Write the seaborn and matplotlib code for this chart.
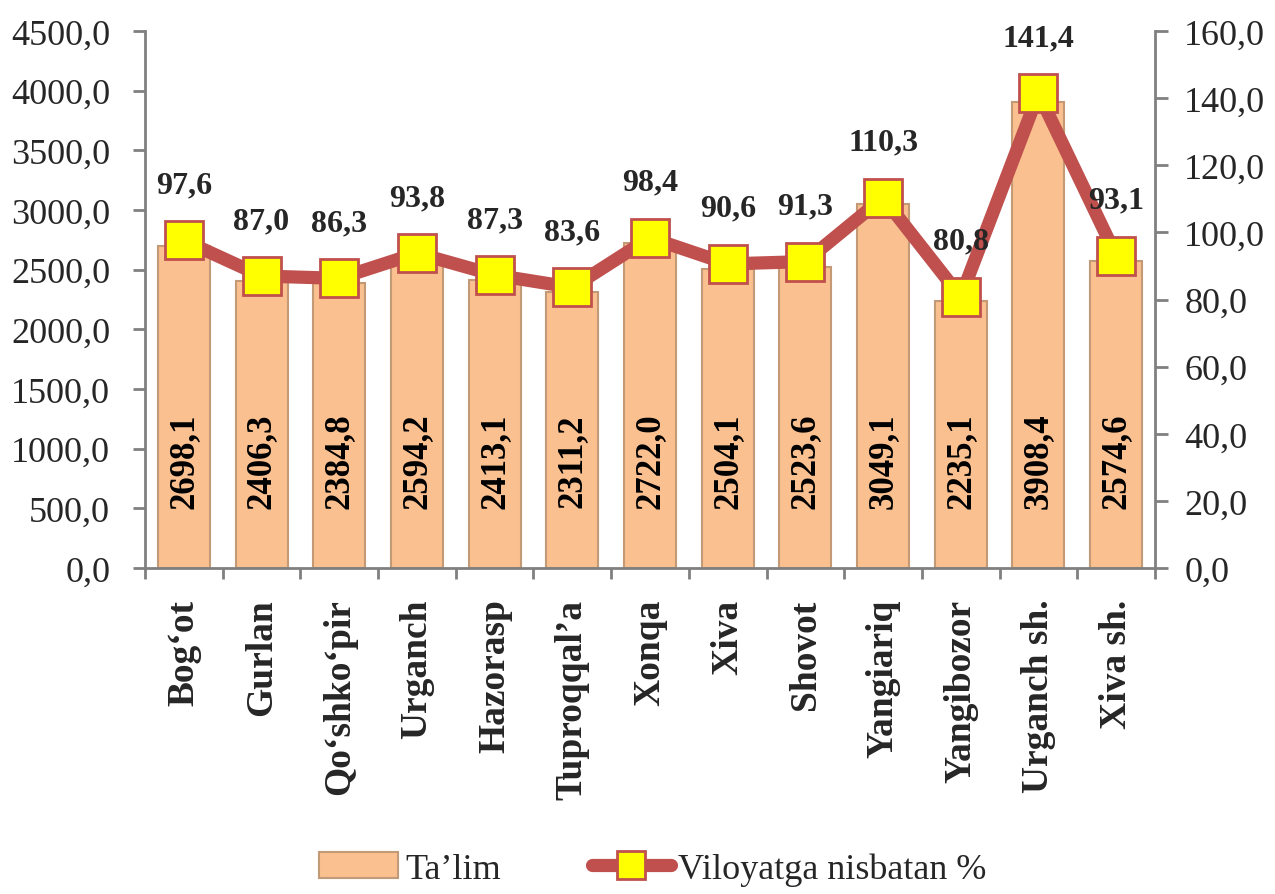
import numpy as np
import matplotlib
matplotlib.use('Agg')
import matplotlib.pyplot as plt
from matplotlib.patches import Patch
from matplotlib.lines import Line2D
from matplotlib.ticker import FuncFormatter, MultipleLocator, FixedLocator
import seaborn as sns

# data
districts = ['Bog‘ot', 'Gurlan', 'Qo‘shko‘pir', 'Urganch', 'Hazorasp', 'Tuproqqal’a',
             'Xonqa', 'Xiva', 'Shovot', 'Yangiariq', 'Yangibozor', 'Urganch sh.', 'Xiva sh.']
talim = [2698.1, 2406.3, 2384.8, 2594.2, 2413.1, 2311.2, 2722.0, 2504.1, 2523.6, 3049.1, 2235.1, 3908.4, 2574.6]
nisbat = [97.6, 87.0, 86.3, 93.8, 87.3, 83.6, 98.4, 90.6, 91.3, 110.3, 80.8, 141.4, 93.1]

bar_color = '#FAC090'
bar_edge = '#C49A76'
line_color = '#C0504D'
grey = '#808080'

sns.set_style('white')
plt.rcParams['font.family'] = ['Liberation Serif', 'DejaVu Serif']

def comma(v, p=None):
    return f'{v:.1f}'.replace('.', ',')

fig = plt.figure(figsize=(12.75, 8.95), dpi=100)
ax = fig.add_axes([145/1275, 1 - 569/895, (1155 - 145)/1275, (569 - 32)/895])

sns.barplot(x=districts, y=talim, ax=ax, color=bar_color, saturation=1,
            width=0.67, edgecolor=bar_edge, linewidth=1.5)
ax.set_xlim(-0.5, len(districts) - 0.5)
ax.set_ylim(0, 4500)
ax.yaxis.set_major_locator(MultipleLocator(500))
ax.yaxis.set_major_formatter(FuncFormatter(comma))

# values written inside the bars
for i, v in enumerate(talim):
    ax.text(i, 900, comma(v), rotation=90, ha='center', va='center',
            fontsize=25, fontweight='bold', color='black')

ax2 = ax.twinx()
sns.lineplot(x=np.arange(len(nisbat)), y=nisbat, ax=ax2, color=line_color,
             linewidth=9.5, marker='s', markersize=27, markerfacecolor='#FFFF00',
             markeredgecolor=line_color, markeredgewidth=2)
ax2.set_ylim(0, 160)
ax2.yaxis.set_major_locator(MultipleLocator(20))
ax2.yaxis.set_major_formatter(FuncFormatter(comma))
for i, v in enumerate(nisbat):
    ax2.annotate(comma(v), (i, v), xytext=(0, 40), textcoords='offset points',
                 ha='center', va='center', fontsize=23, fontweight='bold')

for a in (ax, ax2):
    a.set_xlabel('')
    a.set_ylabel('')
    for s in a.spines.values():
        s.set_color(grey)
        s.set_linewidth(2)
    a.spines['top'].set_visible(False)

ax.spines['right'].set_visible(False)
ax2.spines['left'].set_visible(False)
ax2.spines['bottom'].set_visible(False)

ax.tick_params(axis='y', direction='out', length=9, width=2, color=grey,
               labelsize=26, pad=16, left=True)
ax2.tick_params(axis='y', direction='out', length=9, width=2, color=grey,
                labelsize=26, pad=12, right=True)

ax.xaxis.set_minor_locator(FixedLocator(np.arange(-0.5, len(districts), 1)))
ax.tick_params(axis='x', which='major', length=0, pad=22, labelsize=27, labelrotation=90)
ax.tick_params(axis='x', which='minor', direction='out', length=8, width=2,
               color=grey, bottom=True)
for t in ax.get_xticklabels():
    t.set_fontweight('bold')
ax2.tick_params(axis='x', which='both', length=0)
ax.grid(False)
ax2.grid(False)

handles = [Patch(facecolor=bar_color, edgecolor=bar_edge, linewidth=1.5),
           Line2D([], [], color=line_color, linewidth=9.5, marker='s', markersize=20,
                  markerfacecolor='#FFFF00', markeredgecolor=line_color, markeredgewidth=2)]
fig.legend(handles, ['Ta’lim', 'Viloyatga nisbatan %'], loc='center',
           bbox_to_anchor=(0.512, 0.028), ncol=2, frameon=False, fontsize=26,
           handlelength=2.2, handletextpad=0.2, columnspacing=2.5)

fig.savefig('out.png', dpi=100)
